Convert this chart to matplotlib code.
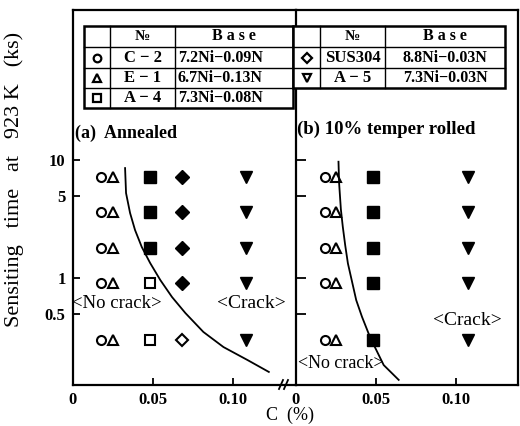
import numpy as np
import matplotlib
matplotlib.use("Agg")
from matplotlib import pyplot as plt
from matplotlib.lines import Line2D
from matplotlib.patches import Rectangle

plt.rcParams['font.family'] = ['Liberation Serif', 'DejaVu Serif']

# sensitizing times (ks) and steels
times = [7.2, 3.6, 1.8, 0.9, 0.3]
steels = ["C \u2212 2", "E \u2212 1", "A \u2212 4", "SUS304", "A \u2212 5"]
bases = ["7.2Ni\u22120.09N", "6.7Ni\u22120.13N", "7.3Ni\u22120.08N", "8.8Ni\u22120.03N", "7.3Ni\u22120.03N"]
carbon = [0.018, 0.025, 0.048, 0.068, 0.108]
markers = ['o', '^', 's', 'D', 'v']
msize = [6.5, 7.0, 7.2, 6.0, 8.5]
msize_filled = [6.5, 7.0, 8.8, 7.6, 8.5]

# 1 = cracked (filled), 0 = no crack (open), None = not tested; one row per steel, columns follow times
crack_annealed = [[0, 0, 0, 0, 0],
                  [0, 0, 0, 0, 0],
                  [1, 1, 1, 0, 0],
                  [1, 1, 1, 1, 0],
                  [1, 1, 1, 1, 1]]
crack_rolled = [[0, 0, 0, 0, 0],
                [0, 0, 0, 0, 0],
                [1, 1, 1, 1, 1],
                [None] * 5,
                [1, 1, 1, 1, 1]]

# boundary between crack / no crack
bound_a_c = [0.0327, 0.0333, 0.0358, 0.0389, 0.0431, 0.0483, 0.0546, 0.0619, 0.0702, 0.0814, 0.0939, 0.1088, 0.1221]
bound_a_t = [8.55, 5.25, 3.56, 2.55, 1.83, 1.34, 0.962, 0.690, 0.505, 0.349, 0.260, 0.202, 0.160]
bound_b_c = [0.0266, 0.0270, 0.0281, 0.0293, 0.0308, 0.0325, 0.0350, 0.0377, 0.0413, 0.0465, 0.0549, 0.0643]
bound_b_t = [9.68, 6.35, 3.82, 2.72, 1.90, 1.33, 0.943, 0.65, 0.47, 0.312, 0.183, 0.137]

W, H = 520, 426
fig = plt.figure(figsize=(W / 100, H / 100), dpi=100)


def fx(px):
    return px / W


def fy(py):
    return 1 - py / H


x0, xm, x1 = 72.5, 296, 518
ytop, ybot = 10, 385
ax1 = fig.add_axes([fx(x0), fy(ybot), fx(xm - x0), (ybot - ytop) / H])
ax2 = fig.add_axes([fx(xm), fy(ybot), fx(x1 - xm), (ybot - ytop) / H])

ylim = (0.124, 187)
for ax in (ax1, ax2):
    ax.set_yscale('log')
    ax.set_xlim(0, 0.139)
    ax.set_ylim(*ylim)
    ax.set_xticks([0, 0.05, 0.10])
    ax.set_xticklabels(["0", "0.05", "0.10"])
    ax.set_yticks([10, 5, 1, 0.5])
    ax.minorticks_off()
    ax.tick_params(direction='in', length=5, width=1.3, labelsize=12, pad=5)
    for lab in ax.get_xticklabels() + ax.get_yticklabels():
        lab.set_fontweight('bold')
    for s in ax.spines.values():
        s.set_linewidth(1.6)
ax1.set_yticklabels(["10", "5", "1", "0.5"])
ax2.set_yticklabels([])
ax1.spines['right'].set_visible(False)
ax2.tick_params(axis='y', length=7)


def draw_panel(ax, crack):
    for k in range(len(steels)):
        for j, t in enumerate(times):
            c = crack[k][j]
            if c is None:
                continue
            if c:
                ax.plot(carbon[k], t, markers[k], ms=msize_filled[k], mfc='black', mec='black', mew=1.0)
            else:
                ax.plot(carbon[k], t, markers[k], ms=msize[k], mfc='white', mec='black', mew=1.5)


draw_panel(ax1, crack_annealed)
draw_panel(ax2, crack_rolled)
ax1.plot(bound_a_c, bound_a_t, color='black', lw=1.3)
ax2.plot(bound_b_c, bound_b_t, color='black', lw=1.3)

ax1.text(0.012, 0.672, "(a)  Annealed", transform=ax1.transAxes, fontsize=13,
         fontweight='bold', va='center', ha='left')
ax2.text(0.005, 0.683, "(b) 10% temper rolled", transform=ax2.transAxes, fontsize=13.5,
         fontweight='bold', va='center', ha='left')
ax1.text(0.0, 0.61, "<No crack>", fontsize=13.5, va='center', ha='left')
ax1.text(0.111, 0.61, "<Crack>", fontsize=14, va='center', ha='center')
ax2.text(0.107, 0.44, "<Crack>", fontsize=14, va='center', ha='center')
ax2.text(0.001, 0.19, "<No crack>", fontsize=13, va='center', ha='left')

ax1.set_ylabel("Sensiting   time   at   923 K   (ks)", fontsize=16)
ax1.yaxis.set_label_coords(-(x0 - 24) / (xm - x0), 0.547)
fig.text(fx(290), fy(415), "C  (%)", fontsize=13, ha='center', va='center')

# axis break marks
for dx in (0, 5):
    fig.add_artist(Line2D([fx(279 + dx), fx(283 + dx)], [fy(389), fy(380)],
                          color='black', lw=1.3, transform=fig.transFigure))


# legend tables
def hline(xa, xb, y, lw):
    fig.add_artist(Line2D([fx(xa), fx(xb)], [fy(y), fy(y)], color='black', lw=lw,
                          transform=fig.transFigure, zorder=6))


def vline(x, ya, yb, lw):
    fig.add_artist(Line2D([fx(x), fx(x)], [fy(ya), fy(yb)], color='black', lw=lw,
                          transform=fig.transFigure, zorder=6))


rows_y = [26, 47, 68, 88, 108]


def draw_table(cols, idx, base_left):
    nrow = len(idx) + 1
    yb = rows_y[nrow]
    fig.add_artist(Rectangle((fx(cols[0]), fy(yb)), fx(cols[-1] - cols[0]), (yb - rows_y[0]) / H,
                             facecolor='white', edgecolor='black', lw=1.8,
                             transform=fig.transFigure, zorder=5))
    for y in rows_y[1:nrow]:
        hline(cols[0], cols[-1], y, 1.0)
    for x in cols[1:-1]:
        vline(x, rows_y[0], yb, 1.0)
    yc = (rows_y[0] + rows_y[1]) / 2
    fig.text(fx((cols[1] + cols[2]) / 2), fy(yc), "\u2116", fontsize=11, fontweight='bold',
             ha='center', va='center', zorder=7)
    fig.text(fx((cols[2] + cols[3]) / 2), fy(yc), "B a s e", fontsize=11.5, fontweight='bold',
             ha='center', va='center', zorder=7)
    for r, k in enumerate(idx):
        yc = (rows_y[r + 1] + rows_y[r + 2]) / 2
        fig.add_artist(Line2D([fx((cols[0] + cols[1]) / 2)], [fy(yc)], marker=markers[k], ms=5.5,
                              mfc='white', mec='black', mew=1.6, ls='none',
                              transform=fig.transFigure, zorder=7))
        fig.text(fx((cols[1] + cols[2]) / 2), fy(yc), steels[k], fontsize=12, fontweight='bold',
                 ha='center', va='center', zorder=7)
        if base_left:
            fig.text(fx(cols[2] + 3), fy(yc), bases[k], fontsize=11.5, fontweight='bold',
                     ha='left', va='center', zorder=7)
        else:
            fig.text(fx((cols[2] + cols[3]) / 2), fy(yc), bases[k], fontsize=11.5, fontweight='bold',
                     ha='center', va='center', zorder=7)


draw_table([84, 110, 175, 293], [0, 1, 2], True)
draw_table([293, 320, 385, 505], [3, 4], False)

fig.savefig("out.png", dpi=100)
